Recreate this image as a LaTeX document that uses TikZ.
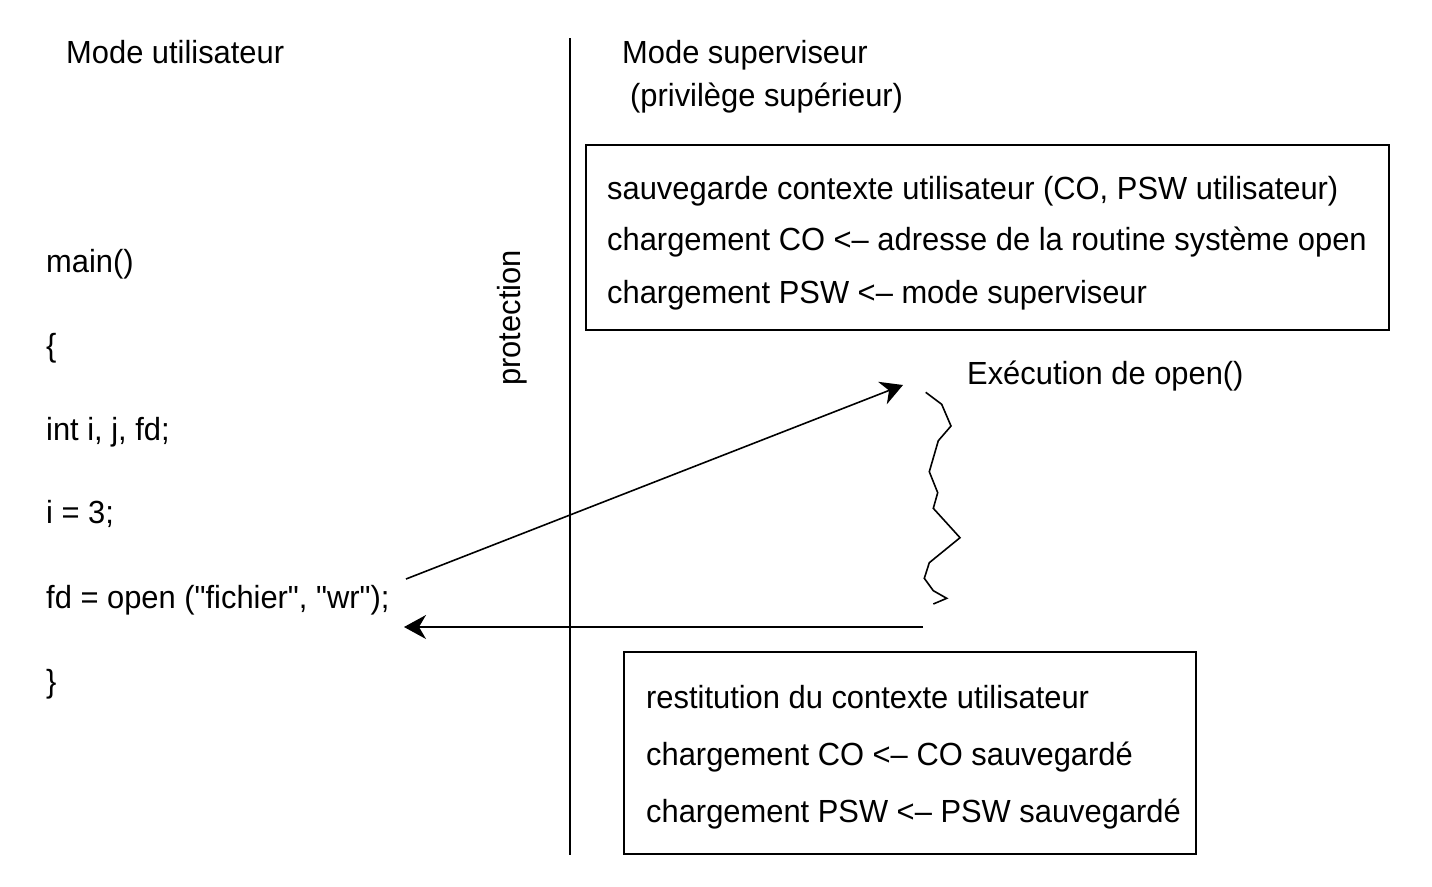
\documentclass[tikz,border=0pt]{standalone}
\usepackage{fontspec}
\setmainfont{Liberation Sans}[FakeStretch=0.965, Ligatures=TeXOff]
\usetikzlibrary{arrows.meta}
\tikzset{
  lbl/.style={anchor=base west, inner sep=0pt, font=\fontsize{32}{38}\selectfont},
  frame/.style={draw, line width=1.6pt},
  conn/.style={line width=1.6pt, -{Stealth[length=22pt,width=24pt,inset=7pt]}},
  wig/.style={line width=1.6pt, line join=miter}
}
\begin{document}
\begin{tikzpicture}[x=1pt,y=-1pt]
\useasboundingbox (0,0) rectangle (1432,886);
% divider
\draw[line width=1.6pt] (570,38) coordinate (dtop) -- (570,855) coordinate (dbot);
% headings
\node[lbl] (mu) at (66,63) {Mode utilisateur};
\node[lbl] (ms) at (622,63) {Mode superviseur};
\node[lbl] (pv) at (630,106) {(privilège supérieur)};
\node[font=\fontsize{32}{38}\selectfont, rotate=90, inner sep=0pt] (prot) at (512,318) {protection};
% box 1
\draw[frame] (586,145) rectangle (1389,330);
\node[lbl] (b1a) at (607,199) {sauvegarde contexte utilisateur (CO, PSW utilisateur)};
\node[lbl] (b1b) at (607,250) {chargement CO <– adresse de la routine système open};
\node[lbl] (b1c) at (607,303) {chargement PSW <– mode superviseur};
% exec label
\node[lbl] (ex) at (967,384) {Exécution de open()};
% code
\node[lbl] (c1) at (46,272) {main()};
\node[lbl] (c2) at (46,356) {\{};
\node[lbl] (c3) at (46,440) {int i, j, fd;};
\node[lbl] (c4) at (46,523) {i = 3;};
\node[lbl] (c5) at (46,608) {fd = open ("fichier", "wr");};
\node[lbl] (c6) at (46,692) {\}};
% box 2
\draw[frame] (624,652) rectangle (1196,854);
\node[lbl] (b2a) at (646,708) {restitution du contexte utilisateur};
\node[lbl] (b2b) at (646,765) {chargement CO <– CO sauvegardé};
\node[lbl] (b2c) at (646,822) {chargement PSW <– PSW sauvegardé};
% connectors
\coordinate (callstart) at (406,579);
\coordinate (callend) at (903,385);
\coordinate (retstart) at (923,627);
\coordinate (retend) at (404,627);
\draw[conn] (callstart) -- (callend);
\draw[conn] (retstart) -- (retend);
% zigzag (execution)
\draw[wig] (925.7,392.3) -- (941.7,404.3) -- (951,426) -- (938.3,440.7) -- (929.3,471.7) -- (937.7,492.7) -- (933.3,508.3) -- (960,537.7) -- (929.3,562.7) -- (924.3,578.3) -- (933.3,590.7) -- (946.7,598.3) -- (933.3,604);
\end{tikzpicture}
\end{document}
